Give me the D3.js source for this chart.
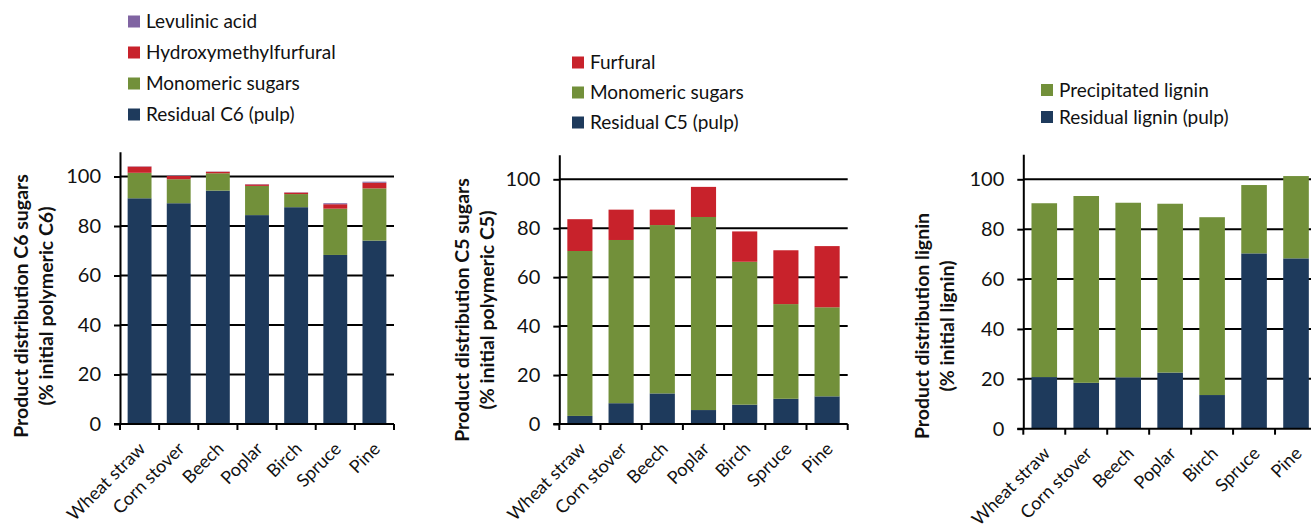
<!DOCTYPE html>
<html>
<head>
<meta charset="utf-8">
<script src="https://cdn.jsdelivr.net/npm/d3@7"></script>
<style>
  body { margin: 0; background: #fff; }
  svg { display: block; font-family: Lato, "Open Sans", sans-serif; }
</style>
</head>
<body>
<svg id="chart" width="1311" height="527"></svg>
<script>
var categories = ["Wheat straw", "Corn stover", "Beech", "Poplar", "Birch", "Spruce", "Pine"];
var yTicks = [0, 20, 40, 60, 80, 100];

// C6 sugars
var c6Residual   = [91.2, 89.2, 94.3, 84.4, 87.6, 68.3, 74.1];
var c6Monomeric  = [10.3, 9.7, 7.0, 11.8, 5.3, 18.7, 21.1];
var c6Hmf        = [2.5, 1.3, 0.6, 0.6, 0.6, 1.8, 2.3];
var c6Levulinic  = [0.1, 0.1, 0.1, 0.1, 0.1, 0.4, 0.4];

// C5 sugars
var c5Residual   = [3.3, 8.5, 12.5, 5.7, 7.9, 10.3, 11.3];
var c5Monomeric  = [67.4, 66.7, 68.8, 78.9, 58.4, 38.7, 36.4];
var c5Furfural   = [13.0, 12.4, 6.3, 12.3, 12.4, 22.0, 25.0];

// lignin
var ligResidual  = [20.7, 18.4, 20.6, 22.5, 13.5, 70.3, 68.3];
var ligPrecip    = [69.7, 74.9, 70.0, 67.7, 71.3, 27.4, 33.0];

var navy = "#1e3a5c", green = "#72903a", red = "#c8222b", purple = "#8064a2";

var svg = d3.select("#chart");

function drawPanel(p) {
    // build rows for d3.stack from the named arrays
    var rows = categories.map(function(c, i) {
        var r = { cat: c };
        p.series.forEach(function(s) { r[s.key] = s.values[i]; });
        return r;
    });
    var keys = p.series.map(function(s) { return s.key; });
    var stacked = d3.stack().keys(keys)(rows);

    var x = d3.scaleBand().domain(categories).range([p.x0, p.x1]).paddingInner(0.39).paddingOuter(0.195);
    var y = d3.scaleLinear().domain([0, 110]).range([p.y0, p.y0 - 110 * p.k]);

    var g = svg.append("g");

    // gridlines
    g.selectAll("line.grid")
        .data(yTicks.slice(1))
        .enter().append("line")
        .attr("x1", p.x0).attr("x2", p.x1)
        .attr("y1", function(d) { return y(d); })
        .attr("y2", function(d) { return y(d); })
        .attr("stroke", "#000").attr("stroke-width", 2);

    // bars
    stacked.forEach(function(layer, li) {
        g.append("g").selectAll("rect")
            .data(layer)
            .enter().append("rect")
            .attr("x", function(d) { return x(d.data.cat); })
            .attr("width", x.bandwidth())
            .attr("y", function(d) { return y(d[1]); })
            .attr("height", function(d) { return y(d[0]) - y(d[1]); })
            .attr("fill", p.series[li].color);
    });

    // y axis
    var yAxis = d3.axisLeft(y).tickValues(yTicks).tickSizeInner(6).tickSizeOuter(0).tickPadding(13);
    var ya = g.append("g").attr("transform", "translate(" + p.x0 + ",0)").call(yAxis);
    ya.select(".domain").attr("stroke", "#000").attr("stroke-width", 2);
    ya.selectAll(".tick line").attr("stroke", "#000").attr("stroke-width", 2);
    ya.selectAll("text").attr("font-size", 20).attr("fill", "#111").attr("font-family", "Lato, sans-serif");

    // x axis baseline + ticks at band boundaries
    g.append("line")
        .attr("x1", p.x0 - 6).attr("x2", p.x1)
        .attr("y1", y(0)).attr("y2", y(0))
        .attr("stroke", "#000").attr("stroke-width", 2);
    g.selectAll("line.xt")
        .data(d3.range(categories.length + 1))
        .enter().append("line")
        .attr("x1", function(i) { return p.x0 + i * x.step(); })
        .attr("x2", function(i) { return p.x0 + i * x.step(); })
        .attr("y1", y(0)).attr("y2", y(0) + 6)
        .attr("stroke", "#000").attr("stroke-width", 2);

    // category labels
    g.selectAll("text.cat")
        .data(categories)
        .enter().append("text")
        .attr("transform", function(d) {
            return "translate(" + (x(d) + x.bandwidth() / 2 - 2) + "," + (y(0) + 17) + ") rotate(-45)";
        })
        .attr("text-anchor", "end")
        .attr("dy", "0.7em")
        .attr("font-size", 18)
        .attr("fill", "#111")
        .text(function(d) { return d; });

    // y titles
    var ty = g.append("g").attr("transform", "translate(" + p.tx + "," + p.ty + ") rotate(-90)");
    ty.append("text").attr("text-anchor", "middle").attr("y", 0)
        .attr("font-size", 19.5).attr("font-weight", "bold").attr("fill", "#111")
        .text(p.title1);
    ty.append("text").attr("text-anchor", "middle").attr("y", 25)
        .attr("font-size", 19.5).attr("font-weight", "bold").attr("fill", "#111")
        .text(p.title2);

    // legend, top entry is last series
    var leg = g.append("g").attr("transform", "translate(" + p.lx + "," + p.ly + ")");
    var items = p.series.slice().reverse();
    items.forEach(function(s, i) {
        var row = leg.append("g").attr("transform", "translate(0," + (i * p.lstep) + ")");
        row.append("rect").attr("x", 0).attr("y", -6).attr("width", 12).attr("height", 12).attr("fill", s.color);
        row.append("text").attr("x", 18).attr("dy", "0.35em").attr("font-size", 19).attr("fill", "#111").text(s.label);
    });
}

drawPanel({
    x0: 120, x1: 394, y0: 424, k: 2.475,
    tx: 28, ty: 306,
    title1: "Product distribution C6 sugars", title2: "(% initial polymeric C6)",
    lx: 128, ly: 21.5, lstep: 31,
    series: [
        { key: "res", label: "Residual C6 (pulp)", values: c6Residual, color: navy },
        { key: "mono", label: "Monomeric sugars", values: c6Monomeric, color: green },
        { key: "hmf", label: "Hydroxymethylfurfural", values: c6Hmf, color: red },
        { key: "lev", label: "Levulinic acid", values: c6Levulinic, color: purple }
    ]
});

drawPanel({
    x0: 559.3, x1: 847.7, y0: 424, k: 2.447,
    tx: 469, ty: 310,
    title1: "Product distribution C5 sugars", title2: "(% initial polymeric C5)",
    lx: 572, ly: 62.5, lstep: 30,
    series: [
        { key: "res", label: "Residual C5 (pulp)", values: c5Residual, color: navy },
        { key: "mono", label: "Monomeric sugars", values: c5Monomeric, color: green },
        { key: "fur", label: "Furfural", values: c5Furfural, color: red }
    ]
});

drawPanel({
    x0: 1023.3, x1: 1317, y0: 428.7, k: 2.494,
    tx: 929, ty: 326,
    title1: "Product distribution lignin", title2: "(% initial lignin)",
    lx: 1041, ly: 90, lstep: 27,
    series: [
        { key: "res", label: "Residual lignin (pulp)", values: ligResidual, color: navy },
        { key: "pre", label: "Precipitated lignin", values: ligPrecip, color: green }
    ]
});
</script>
</body>
</html>
